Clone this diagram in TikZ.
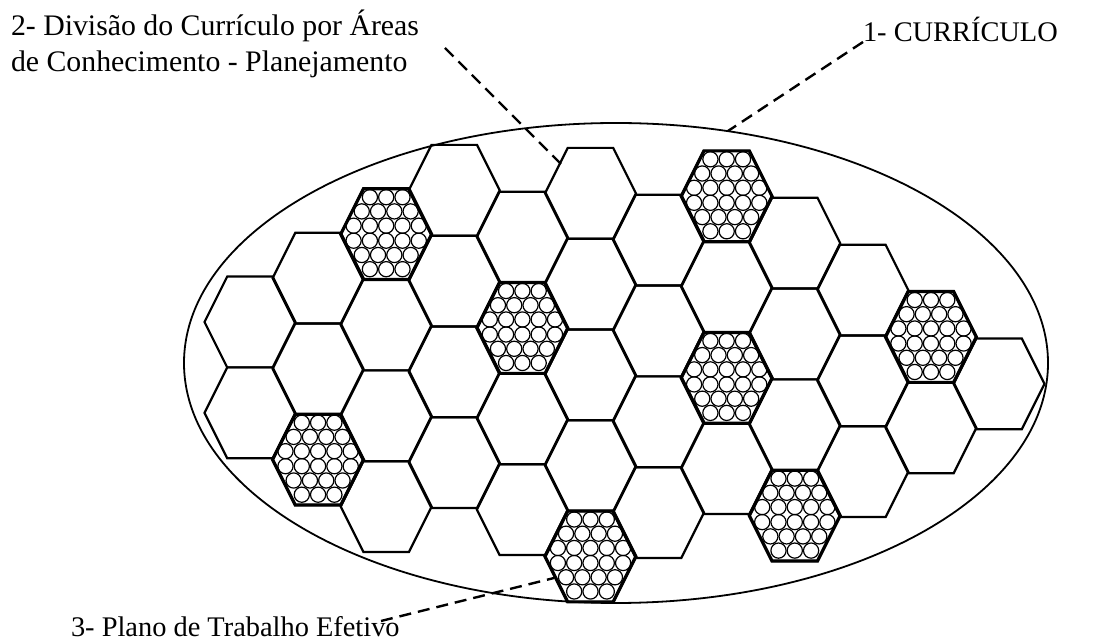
\documentclass[tikz,border=0pt]{standalone}
\usepackage{fontspec}
\setmainfont{Liberation Serif}

% one cell of the honeycomb: column, row, style
\newcommand{\hexcell}[3]{%
  \pgfmathsetmacro\hx{250+68.1*#1}%
  \pgfmathsetmacro\hy{322+1.5*#1+90.8*#2+45.4*mod(#1,2)}%
  \draw[#3] (\hx-45.5,\hy) -- ++(22.7,-45.4) -- ++(45.5,0) -- ++(22.7,45.4)
    -- ++(-22.7,45.4) -- ++(-45.5,0) -- cycle;}

% packed circles inside a cell: column, row
\newcommand{\grains}[2]{%
  \pgfmathsetmacro\hx{250+68.1*#1}%
  \pgfmathsetmacro\hy{322+1.5*#1+90.8*#2+45.4*mod(#1,2)-1}%
  \foreach \dy/\n in {-36/3,-21.8/4,-7.5/5,7.5/5,21.8/4,36/3}
    \foreach \j in {1,...,\n}
      \draw[grain] (\hx+16.3*\j-8.15*\n-8.15, \hy+\dy) circle[radius=7.6];}

\begin{document}
\begin{tikzpicture}[x=0.5pt, y=-0.5pt,
    cell/.style={draw=black, line width=1.1pt},
    fullcell/.style={draw=black, line width=1.6pt},
    grain/.style={draw=black, line width=0.6pt},
    leader/.style={draw=black, line width=1.2pt, dash pattern=on 6pt off 3.5pt},
    lbl/.style={inner sep=0, outer sep=0, font=\fontsize{14.2}{18}\selectfont, align=left}]
  \useasboundingbox (0,0) rectangle (1099,641);

  % curriculo
  \draw[line width=0.9pt] (616,363) ellipse [x radius=432, y radius=240];

  % areas de conhecimento
  \foreach \c/\ka/\kb in {0/0/1, 1/-1/1, 2/-1/2, 3/-2/1, 4/-1/2, 5/-2/2,
                          6/-1/2, 7/-2/1, 8/-1/2, 9/-1/1, 10/0/1, 11/0/0}
    \foreach \k in {\ka,...,\kb}
      \hexcell{\c}{\k}{cell};

  % planos de trabalho
  \foreach \c/\k in {2/-1, 1/1, 4/0, 5/2, 7/-2, 7/0, 8/2, 10/0} {
    \hexcell{\c}{\k}{fullcell}
    \grains{\c}{\k}
  }

  \node[lbl, anchor=base west] (lblCurr) at (863,42) {1- CURRÍCULO};
  \node[lbl, anchor=base west, font=\fontsize{14.9}{18}\selectfont] (lblArea) at (11,72) {2- Divisão do Currículo por Áreas\\de Conhecimento - Planejamento};
  \node[lbl, anchor=base west] (lblPlan) at (71,637) {3- Plano de Trabalho Efetivo};

  \coordinate (currTip) at (728,131);
  \coordinate (areaTail) at (445,48);
  \coordinate (areaTip) at (562,165);
  \coordinate (planTail) at (381,621);
  \coordinate (planTip) at (554,578);

  \draw[leader] (lblCurr.base west) -- (currTip);
  \draw[leader] (areaTail) -- (areaTip);
  \draw[leader] (planTail) -- (planTip);
\end{tikzpicture}
\end{document}
